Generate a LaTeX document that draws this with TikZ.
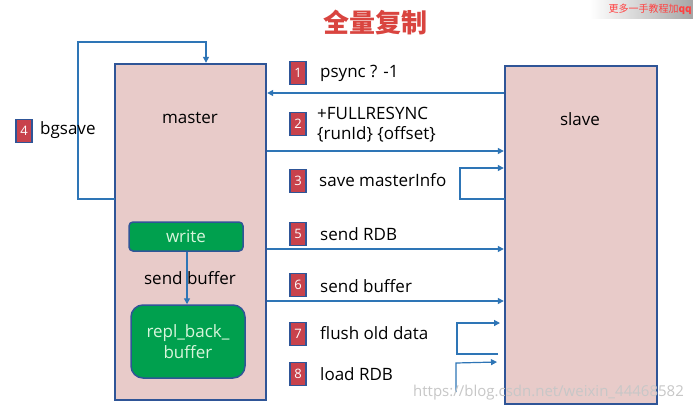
\documentclass[tikz,border=0pt]{standalone}
\usepackage{fontspec}
\setmainfont{Open Sans}
\newfontfamily\cjkfont{Noto Sans CJK SC}
\usetikzlibrary{arrows.meta}
\definecolor{boxfill}{HTML}{E8CBC9}
\definecolor{boxedge}{HTML}{2F5597}
\definecolor{linec}{HTML}{2E75B6}
\definecolor{badgered}{HTML}{C8424C}
\definecolor{greenfill}{HTML}{00A04E}
\definecolor{greentext}{HTML}{D8F5DC}
\definecolor{titlered}{HTML}{D9443F}
\begin{document}
\begin{tikzpicture}[x=1pt,y=-1pt,
  bigbox/.style={draw=boxedge,fill=boxfill,line width=2.4pt,inner sep=0pt},
  conn/.style={draw=linec,line width=1.2pt,-{Triangle[length=6pt,width=6pt]}},
  badge/.style={draw=boxedge,fill=badgered,line width=1.5pt,text=white,minimum width=16pt,minimum height=23pt,inner sep=0pt,font=\fontsize{13}{14}\selectfont},
  lab/.style={anchor=west,inner sep=0pt,font=\fontsize{17}{20}\selectfont},
  greenbox/.style={draw=boxedge,fill=greenfill,line width=1.5pt,text=greentext,inner sep=0pt,font=\fontsize{17}{21}\selectfont,align=center}]
\useasboundingbox (0,0) rectangle (693,413);
\fill[white] (0,0) rectangle (693,413);
% top right watermark
\shade[left color=white,right color=black!35] (590,0) rectangle (693,18);
\node[inner sep=0pt,anchor=east,text=red!75,font=\cjkfont\fontsize{10}{11}\selectfont] (wm1) at (692,9) {更多一手教程加\textbf{qq}};
% title
\node[inner sep=0pt,text=titlered,font=\cjkfont\bfseries\fontsize{26}{28}\selectfont] (title) at (375,22) {全量复制};
% boxes
\node[bigbox,minimum width=151pt,minimum height=336pt] (master) at (190.5,232) {};
\node[bigbox,minimum width=152pt,minimum height=338pt] (slave) at (581,235) {};
\node[inner sep=0pt,font=\fontsize{17}{20}\selectfont] (masterlab) at (190,118) {master};
\node[inner sep=0pt,font=\fontsize{17}{20}\selectfont] (slavelab) at (580,119) {slave};
% inner green boxes
\node[greenbox,rounded corners=4pt,minimum width=114pt,minimum height=29pt] (write) at (186,236.5) {write};
\node[greenbox,rounded corners=12pt,minimum width=114pt,minimum height=73pt] (repl) at (188,341.5) {repl\_back\_\\buffer};
\draw[draw=linec,line width=1.3pt,-{Triangle[length=6pt,width=6pt]}] (write.south -| 187,0) -- (repl.north -| 187,0);
\node[inner sep=0pt,font=\fontsize{17}{20}\selectfont] (sbl) at (190,278) {send buffer};
% bgsave loop
\coordinate (bg1) at (115,199);
\coordinate (bg2) at (78,199);
\coordinate (bg3) at (78,42);
\coordinate (bg4) at (206,42);
\draw[conn] (bg1) -- (bg2) -- (bg3) -- (bg4) -- (master.north -| bg4);
\node[badge] (b4) at (24,131) {4};
\node[lab] (t4) at (40,130) {bgsave};
% 1
\draw[conn] (slave.west |- 0,93) -- (master.east |- 0,93);
\node[badge] (b1) at (298,73) {1};
\node[lab] (t1) at (320,73) {psync ? -1};
% 2
\draw[conn] (master.east |- 0,151) -- (slave.west |- 0,151);
\node[badge] (b2) at (298,124) {2};
\node[lab,align=left] (t2) at (317,125) {+FULLRESYNC\\\{runId\} \{offset\}};
% 3
\coordinate (l3a) at (505,199);
\coordinate (l3b) at (460,199);
\coordinate (l3c) at (460,168);
\draw[conn] (l3a) -- (l3b) -- (l3c) -- (slave.west |- l3c);
\node[badge] (b3) at (298,181) {3};
\node[lab] (t3) at (319,180) {save masterInfo};
% 5
\draw[conn] (master.east |- 0,249) -- (slave.west |- 0,249);
\node[badge] (b5) at (298,234) {5};
\node[lab] (t5) at (320,234) {send RDB};
% 6
\draw[conn] (master.east |- 0,301) -- (slave.west |- 0,301);
\node[badge] (b6) at (298,285) {6};
\node[lab] (t6) at (320,286) {send buffer};
% 7
\coordinate (l7a) at (498,354);
\coordinate (l7b) at (457,354);
\coordinate (l7c) at (457,323);
\coordinate (l7d) at (500,323);
\draw[conn] (l7a) -- (l7b) -- (l7c) -- (l7d);
\node[badge] (b7) at (298,334) {7};
\node[lab] (t7) at (320,333) {flush old data};
% 8
\coordinate (l8a) at (456,392);
\coordinate (l8b) at (456,363);
\coordinate (l8c) at (497,362);
\draw[conn] (l8a) -- (l8b) -- (l8c);
\node[badge] (b8) at (298,374) {8};
\node[lab] (t8) at (320,374) {load RDB};
% csdn watermark
\node[inner sep=0pt,anchor=east,text=black!22,font=\fontsize{15}{16}\selectfont] (wm2) at (684,393) {https://blog.csdn.net/weixin\_44468582};
\end{tikzpicture}
\end{document}
